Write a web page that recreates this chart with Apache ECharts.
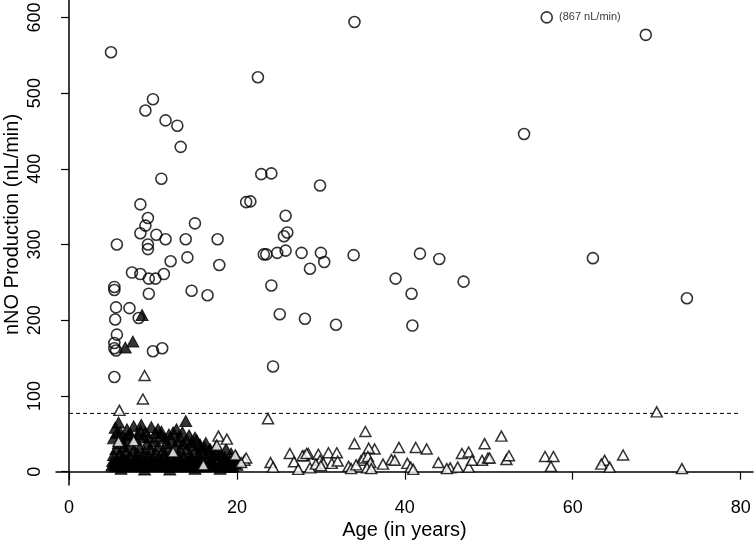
<!DOCTYPE html>
<html><head><meta charset="utf-8">
<script src="https://cdn.jsdelivr.net/npm/echarts@6/dist/echarts.min.js"></script>
<style>html,body{margin:0;padding:0;background:#fff}#c{width:756px;height:541px}</style>
</head><body><div id="c"></div>
<script>
const xTicks = [0, 20, 40, 60, 80];
const yTicks = [0, 100, 200, 300, 400, 500, 600];
const cutoff = 77;
const outlierLabel = '(867 nL/min)';
// open circles (age, nNO)
const circles = [[5.0,554],[22.5,521],[10.0,492],[9.1,477],[11.5,464],[12.9,457],[13.3,429],[11.0,387],[22.9,393],[24.1,394],[21.1,356],[21.6,357],[8.5,353],[25.8,338],[9.4,335],[9.1,325],[15.0,328],[8.5,315],[26.0,316],[25.6,311],[10.4,313],[11.5,307],[13.9,307],[17.7,307],[5.7,300],[9.4,300],[9.4,294],[12.1,278],[14.1,283],[17.9,273],[7.5,263],[8.5,261],[9.5,255],[10.3,255],[11.3,261],[5.4,244],[5.4,240],[9.5,235],[14.6,239],[16.5,233],[5.6,217],[7.2,216],[5.5,201],[8.3,203],[5.7,181],[5.4,170],[5.4,163],[5.6,160],[10.0,159],[11.1,163],[5.4,125],[23.2,287],[23.5,287],[24.8,289],[25.8,292],[27.7,289],[24.1,246],[25.1,208],[28.1,202],[24.3,139],[30.0,289],[30.4,277],[28.7,268],[33.9,286],[41.8,288],[44.1,281],[38.9,255],[47.0,251],[40.8,235],[62.4,282],[73.6,229],[31.8,194],[40.9,193],[34.0,594],[68.7,577],[54.2,446],[29.9,378]];
const outlier = [56.9, 600];
// open triangles
const openTri = [[6.0,81],[8.8,96],[9.0,127],[23.7,70],[70.0,79],
[5.9,40],[7.7,41],[17.8,47],[18.8,43],[17.6,35],[12.4,26],[20.9,15],[21.1,18],[20.5,12],[19.8,22],[16.0,9],
[35.3,53],[34.0,37],[51.5,47],[49.5,37],[66.0,22],[39.3,32],[41.3,32],[42.6,30],[36.4,30],[35.7,31],[28.0,21],[28.5,24],[29.7,23],[30.9,25],[31.9,25],[29.9,15],[30.3,11],[31.3,11],[33.3,7],[34.8,15],[35.1,18],[35.6,20],[35.9,12],[38.4,16],[38.8,15],[40.3,11],[44.0,12],[45.4,5],[46.3,6],[47.6,6],[46.8,24],[47.6,26],[48.0,15],[49.2,15],[49.9,18],[50.1,18],[52.1,16],[52.4,21],[56.7,20],[57.7,20],[57.4,7],[63.8,15],[63.4,10],[64.4,6],[73.0,4],[24.0,12],[24.3,6],[26.3,24],[26.8,13],[27.3,3],[27.8,21],[28.3,24],[28.7,5],[29.4,10],[30.0,8],[33.6,4],[34.2,9],[35.5,5],[36.0,4],[40.7,6],[41.0,3],[32.0,14],[37.4,10],[45.0,4]];
// filled triangles
const filledTri = [[5.9,65],[5.7,51],[6.7,44],[8.5,54],[9.8,59],[11.0,53],[12.8,56],[13.9,67],[8.7,207],[7.6,172],[6.7,164],
[5.1,8],[5.2,14],[5.3,22],[5.4,10],[5.5,7],[5.6,30],[5.7,17],[5.8,11],[5.9,38],[6.0,8],[6.1,24],[6.2,13],[6.3,9],[6.4,19],[6.5,33],[6.6,7],[6.8,27],[6.9,10],[7.0,15],[7.1,48],[7.2,8],[7.3,21],[7.4,36],[7.5,12],[7.6,7],[7.7,28],[7.8,9],[7.9,17],[8.0,42],[8.1,8],[8.2,23],[8.3,14],[8.4,32],[8.6,7],[8.7,19],[8.8,10],[8.9,46],[9.0,26],[9.1,8],[9.2,15],[9.3,37],[9.4,7],[9.5,21],[9.6,11],[9.7,30],[9.9,8],[10.0,17],[10.1,40],[10.2,9],[10.3,25],[10.4,13],[10.5,7],[10.6,34],[10.7,19],[10.8,8],[10.9,47],[11.1,12],[11.2,28],[11.3,7],[11.4,22],[11.5,15],[11.6,38],[11.7,8],[11.8,31],[11.9,11],[12.0,18],[12.1,7],[12.2,42],[12.3,25],[12.4,9],[12.5,14],[12.6,33],[12.7,7],[12.9,21],[13.0,8],[13.1,46],[13.2,16],[13.3,27],[13.4,7],[13.5,12],[13.6,37],[13.7,20],[13.8,8],[14.0,30],[14.1,13],[14.2,7],[14.3,48],[14.4,23],[14.5,10],[14.6,17],[14.8,35],[14.9,8],[15.0,26],[15.1,14],[15.2,42],[15.3,7],[15.4,20],[15.5,9],[15.7,31],[15.8,15],[15.9,7],[16.0,24],[16.2,11],[16.3,38],[16.4,18],[16.6,8],[16.7,28],[16.9,13],[17.0,7],[17.2,22],[17.3,9],[17.5,33],[17.6,16],[17.8,8],[18.0,25],[18.2,12],[18.4,7],[18.5,19],[18.7,30],[18.9,8],[19.1,15],[19.3,24],[19.5,7],[19.7,11],[19.9,20],[20.1,14],
[5.3,44],[5.5,58],[6.1,52],[6.4,40],[6.9,56],[7.3,50],[7.7,60],[8.2,49],[8.6,62],[9.1,52],[9.5,45],[10.3,51],[10.6,56],[11.4,44],[11.9,49],[12.4,52],[13.0,40],[13.5,52],[14.0,42],[14.6,39],[15.0,45],[15.6,36],[16.1,33],[16.8,30],[17.4,26],[18.1,22],[18.6,17],[19.4,13],[20.0,9],[6.8,15],[8.0,13],[9.8,12],[11.0,16],[12.6,11],[14.3,14],[15.8,11],[17.1,12],[18.6,10],[19.2,6],[6.2,4],[9.0,3],[12.0,3],[15.0,4],[18.0,4]];

const font = 'Liberation Sans, Arial, sans-serif';
const chart = echarts.init(document.getElementById('c'), null, {renderer: 'canvas'});
chart.setOption({
  animation: false,
  backgroundColor: '#fff',
  grid: {left: 56, right: 3, top: 0, bottom: 56, containLabel: false, outerBoundsMode: 'none'},
  xAxis: {
    type: 'value', min: -1.55, max: 81.47,
    name: 'Age (in years)', nameLocation: 'middle', nameGap: 35, nameMoveOverlap: false,
    nameTextStyle: {fontFamily: font, fontSize: 20, color: '#000'},
    axisLine: {show: true, lineStyle: {color: '#000', width: 1.5}},
    axisTick: {show: true, length: 8, lineStyle: {color: '#000', width: 1.2}, customValues: xTicks},
    axisLabel: {fontFamily: font, fontSize: 18, color: '#000', margin: 14, customValues: xTicks},
    splitLine: {show: false}
  },
  yAxis: {
    type: 'value', min: -17.6, max: 623,
    name: 'nNO Production (nL/min)', nameLocation: 'middle', nameGap: 34, nameMoveOverlap: false,
    nameTextStyle: {fontFamily: font, fontSize: 20, color: '#000', padding: [0, 0, 0, 36]},
    axisLine: {show: true, lineStyle: {color: '#000', width: 1.5}},
    axisTick: {show: true, length: 8, lineStyle: {color: '#000', width: 1.2}, customValues: yTicks},
    axisLabel: {fontFamily: font, fontSize: 18, color: '#000', rotate: 90, margin: 12, customValues: yTicks},
    splitLine: {show: false}
  },
  series: [
    {type: 'line', data: [[0, cutoff], [80, cutoff]], symbol: 'none', silent: true,
     lineStyle: {color: '#000', width: 1, type: [4, 3]}, z: 1},
    {type: 'scatter', data: filledTri, symbol: 'triangle', symbolSize: [12, 11],
     itemStyle: {color: '#000', borderColor: '#000', borderWidth: 1}, z: 2},
    {type: 'scatter', data: openTri, symbol: 'triangle', symbolSize: [11, 10],
     itemStyle: {color: '#fff', borderColor: '#000', borderWidth: 1.5}, z: 3},
    {type: 'scatter', data: circles.concat([{value: outlier, label: {show: true, position: 'right', distance: 6, formatter: outlierLabel, fontFamily: font, fontSize: 11, color: '#000'}}]),
     symbol: 'circle', symbolSize: 11,
     itemStyle: {color: 'rgba(255,255,255,0)', borderColor: '#000', borderWidth: 1.6}, z: 4}
  ]
});
</script></body></html>
